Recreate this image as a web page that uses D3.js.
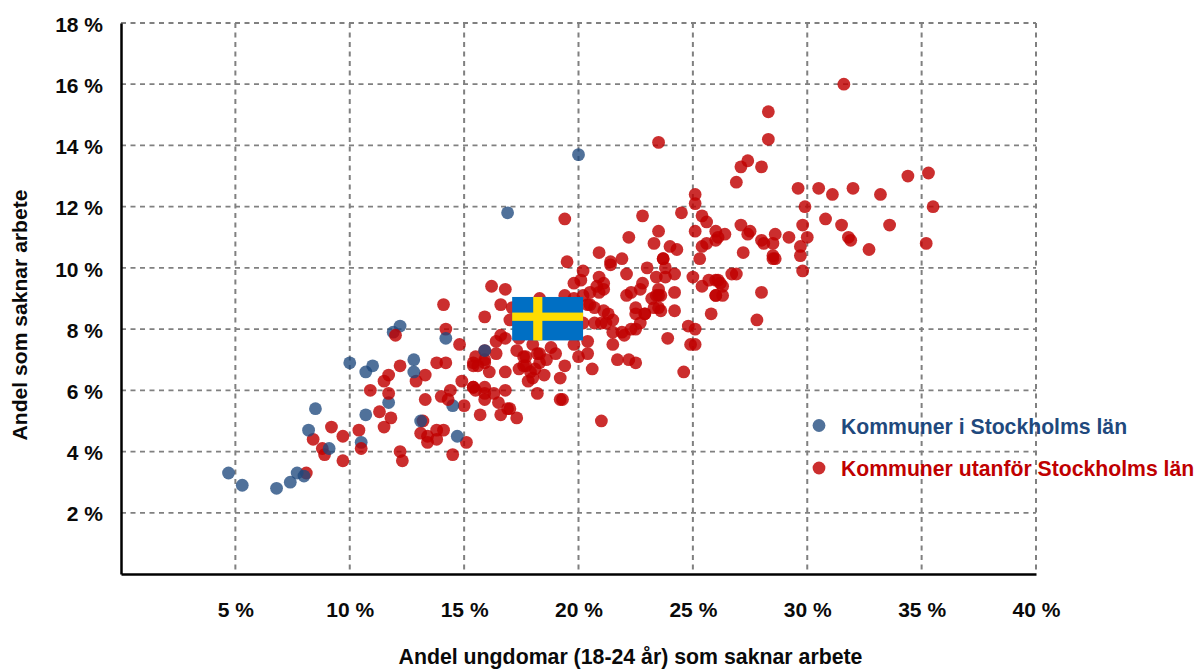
<!DOCTYPE html>
<html><head><meta charset="utf-8">
<style>html,body{margin:0;padding:0;background:#fff}svg{display:block}text{font-family:"Liberation Sans",Arial,sans-serif;font-weight:bold}</style>
<script src="https://cdnjs.cloudflare.com/ajax/libs/d3/7.8.5/d3.min.js"></script>
</head><body><svg id="c" width="1196" height="669"></svg>
<script>
const xTicks=[5,10,15,20,25,30,35,40];
const yTicks=[2,4,6,8,10,12,14,16,18];
const legendLabels=["Kommuner i Stockholms län","Kommuner utanför Stockholms län"];
const xTitle="Andel ungdomar (18-24 år) som saknar arbete";
const yTitle="Andel som saknar arbete";
const stockholm=[[4.7,3.3],[5.3,2.9],[6.8,2.8],[7.4,3.0],[7.7,3.3],[8.0,3.2],[8.2,4.7],[8.5,5.4],[9.1,4.1],[10.0,6.9],[10.7,6.6],[11.0,6.8],[10.7,5.2],[10.5,4.3],[11.7,5.6],[11.9,7.9],[12.2,8.1],[12.8,7.0],[12.8,6.6],[13.1,5.0],[14.2,7.7],[14.5,5.5],[14.7,4.5],[15.9,7.3],[16.9,11.8],[20.0,13.7]];
const othersAbove=[[12.0,7.8],[14.3,5.7],[10.5,4.1],[11.7,5.9]];
const others=[[16.2,9.4],[14.1,8.8],[16.6,8.8],[15.9,8.4],[14.2,8.0],[14.8,7.5],[15.9,7.3],[16.4,7.6],[16.6,7.8],[16.4,7.2],[15.5,7.1],[15.9,7.0],[15.4,6.9],[15.6,6.8],[15.4,6.8],[15.9,6.9],[16.1,6.6],[13.8,6.9],[14.2,6.9],[12.2,6.8],[13.3,6.5],[11.7,6.5],[11.5,6.3],[12.9,6.3],[14.9,6.3],[10.9,6.0],[14.4,6.0],[14.0,5.8],[13.3,5.7],[15.0,5.5],[15.4,6.1],[15.4,6.1],[15.5,6.0],[15.9,6.1],[15.9,5.9],[15.9,5.7],[16.3,5.9],[16.5,5.6],[15.7,5.2],[16.6,5.2],[11.3,5.3],[11.8,5.1],[11.5,4.8],[13.2,5.0],[13.1,4.6],[13.4,4.5],[13.4,4.3],[13.8,4.4],[13.8,4.7],[14.1,4.7],[15.1,4.3],[14.5,3.9],[12.2,4.0],[12.3,3.7],[10.4,4.7],[9.7,4.5],[9.2,4.8],[8.4,4.4],[8.8,4.1],[8.9,3.9],[9.7,3.7],[8.1,3.3],
[16.8,9.3],[17.1,8.7],[17.0,8.3],[19.5,10.2],[20.9,10.5],[20.2,9.9],[21.4,10.2],[21.4,10.1],[21.9,10.3],[23.3,10.8],[22.2,11.0],[24.0,10.7],[24.3,10.6],[23.7,10.3],[23.7,10.3],[23.0,10.0],[23.8,10.0],[22.1,9.8],[23.4,9.7],[23.8,9.7],[24.2,9.8],[20.9,9.7],[21.1,9.5],[20.1,9.6],[19.8,9.5],[20.8,9.4],[21.1,9.3],[20.9,9.2],[20.5,9.2],[20.2,9.1],[19.4,9.1],[22.8,9.5],[22.7,9.3],[22.3,9.2],[22.1,9.1],[23.5,9.3],[23.5,9.1],[23.2,9.0],[23.6,9.1],[23.4,9.1],[24.2,9.2],[24.2,8.6],[23.3,8.7],[23.5,8.7],[23.6,8.6],[22.5,8.7],[22.5,8.5],[22.9,8.5],[22.9,8.5],[22.7,8.2],[22.5,8.0],[22.3,8.0],[22.0,7.8],[21.9,7.9],[21.5,7.9],[21.5,8.3],[21.3,8.5],[21.1,8.6],[20.7,8.7],[20.5,8.8],[20.4,8.8],[20.7,8.2],[21.0,8.2],[21.2,8.2],[20.4,7.6],[20.4,7.2],[20.0,7.1],[21.5,7.5],[20.6,6.7],[21.7,7.0],[22.2,7.0],[22.5,6.9],[23.9,7.7],[21.0,5.0],[19.4,6.8],[19.8,7.5],[19.2,6.4],[19.3,5.7],[19.2,5.7],[18.2,5.9],[18.5,6.5],[19.0,7.2],[18.8,7.4],[18.6,7.0],[18.3,7.2],[18.2,7.2],[18.0,7.5],[17.7,7.1],[17.6,7.1],[17.3,7.3],[18.3,6.9],[18.1,6.7],[17.7,6.8],[17.6,6.8],[17.4,6.7],[17.9,6.6],[18.0,6.4],[17.8,6.3],[16.8,6.6],[16.8,7.7],[16.8,6.0],[16.9,5.4],[17.0,5.4],[17.3,5.1],[18.3,9.0],[19.8,9.0],[20.2,8.2],[17.4,7.7],
[26.9,12.8],[29.6,12.6],[30.5,12.6],[31.1,12.4],[32.0,12.6],[25.1,12.4],[25.1,12.1],[24.5,11.8],[22.8,11.7],[29.9,12.0],[25.4,11.7],[25.6,11.5],[29.8,11.4],[30.8,11.6],[31.5,11.4],[27.1,11.4],[31.8,11.0],[31.9,10.9],[30.0,11.0],[29.2,11.0],[28.6,11.1],[28.5,10.8],[28.0,10.9],[28.1,10.8],[27.5,11.2],[27.4,11.1],[26.4,11.1],[26.0,11.2],[26.1,11.0],[26.0,10.9],[25.6,10.8],[25.4,10.7],[25.1,11.2],[23.5,11.2],[25.3,10.3],[27.2,10.5],[29.7,10.7],[29.7,10.4],[28.5,10.4],[28.5,10.3],[28.6,10.3],[29.8,9.9],[25.0,9.7],[25.7,9.6],[26.0,9.6],[26.1,9.6],[26.2,9.5],[26.3,9.4],[25.4,9.4],[26.7,9.8],[26.9,9.8],[26.0,9.1],[26.0,9.1],[26.3,9.1],[28.0,9.2],[25.8,8.5],[27.8,8.3],[24.8,8.1],[25.1,8.0],[24.9,7.5],[25.1,7.5],[24.6,6.6],
[31.6,16.0],[28.3,15.1],[28.3,14.2],[23.5,14.1],[27.4,13.5],[27.1,13.3],[28.0,13.3],[19.4,11.6],[34.4,13.0],[35.3,13.1],[33.2,12.4],[35.5,12.0],[33.6,11.4],[32.7,10.6],[35.2,10.8]];
const flagX=[17.1,20.2], flagY=[7.63,9.05], crossX=[18.02,18.42], crossY=[8.27,8.54];

const x=d3.scaleLinear().domain([0,40]).range([121,1036]);
const y=d3.scaleLinear().domain([0,18]).range([574,23]);
const svg=d3.select("#c");

const grid=svg.append("g").attr("fill","none").attr("stroke","#808080").attr("stroke-dasharray","5,4.5");
grid.selectAll("line.v").data(xTicks).join("line").attr("class","v")
 .attr("x1",d=>x(d)).attr("x2",d=>x(d)).attr("y1",y(18)).attr("y2",y(0)).attr("stroke-width",2);
grid.selectAll("line.h").data(yTicks).join("line").attr("class","h")
 .attr("x1",x(0)).attr("x2",x(40)).attr("y1",d=>y(d)).attr("y2",d=>y(d)).attr("stroke-width",1.8);

const xAxis=d3.axisBottom(x).tickValues(xTicks).tickFormat(d=>d+" %").tickSize(0).tickPadding(28);
const yAxis=d3.axisLeft(y).tickValues(yTicks).tickFormat(d=>d+" %").tickSize(0).tickPadding(18);
const gx=svg.append("g").attr("transform",`translate(0,${y(0)})`).call(xAxis);
const gy=svg.append("g").attr("transform",`translate(${x(0)},0)`).call(yAxis);
[gx,gy].forEach(g=>{g.select(".domain").attr("stroke","#000").attr("stroke-width",2.5);
 g.selectAll("text").attr("fill","#0a0a0a").style("font-size","21px").style("font-family",'"Liberation Sans"').style("font-weight","bold");});
gy.selectAll("text").attr("dy","0.39em");

const pts=svg.append("g");
const dot=(sel,data,cls,fill,op)=>sel.selectAll("circle."+cls).data(data).join("circle").attr("class",cls)
 .attr("cx",d=>x(d[0])).attr("cy",d=>y(d[1])).attr("r",6.4).attr("fill",fill).attr("fill-opacity",op);
dot(pts,others,"o","#c00000",.82);
dot(pts,stockholm,"s","#1f497d",.78);
dot(pts,othersAbove,"a","#c00000",.82);

const flag=svg.append("g");
flag.append("rect").attr("x",x(flagX[0])).attr("y",y(flagY[1])).attr("width",x(flagX[1])-x(flagX[0])).attr("height",y(flagY[0])-y(flagY[1])).attr("fill","#006fc4");
flag.append("rect").attr("x",x(crossX[0])).attr("y",y(flagY[1])).attr("width",x(crossX[1])-x(crossX[0])).attr("height",y(flagY[0])-y(flagY[1])).attr("fill","#ffdc00");
flag.append("rect").attr("x",x(flagX[0])).attr("y",y(crossY[1])).attr("width",x(flagX[1])-x(flagX[0])).attr("height",y(crossY[0])-y(crossY[1])).attr("fill","#ffdc00");

const legend=svg.append("g");
const legendColors=["#1f497d","#c00000"], legendDot=[.78,.82];
legendLabels.forEach((t,i)=>{
 const cy=425.5+i*42.5;
 legend.append("circle").attr("cx",819).attr("cy",cy).attr("r",6.4).attr("fill",legendColors[i]).attr("fill-opacity",legendDot[i]);
 legend.append("text").attr("x",841).attr("y",cy+8).attr("fill",legendColors[i]).style("font-size","21.2px").text(t);
});
svg.append("text").attr("x",630.5).attr("y",664).attr("text-anchor","middle").attr("fill","#0a0a0a").style("font-size","21.3px").text(xTitle);
svg.append("text").attr("transform","translate(26.5,315) rotate(-90)").attr("text-anchor","middle").attr("fill","#0a0a0a").style("font-size","21.1px").text(yTitle);
</script></body></html>
